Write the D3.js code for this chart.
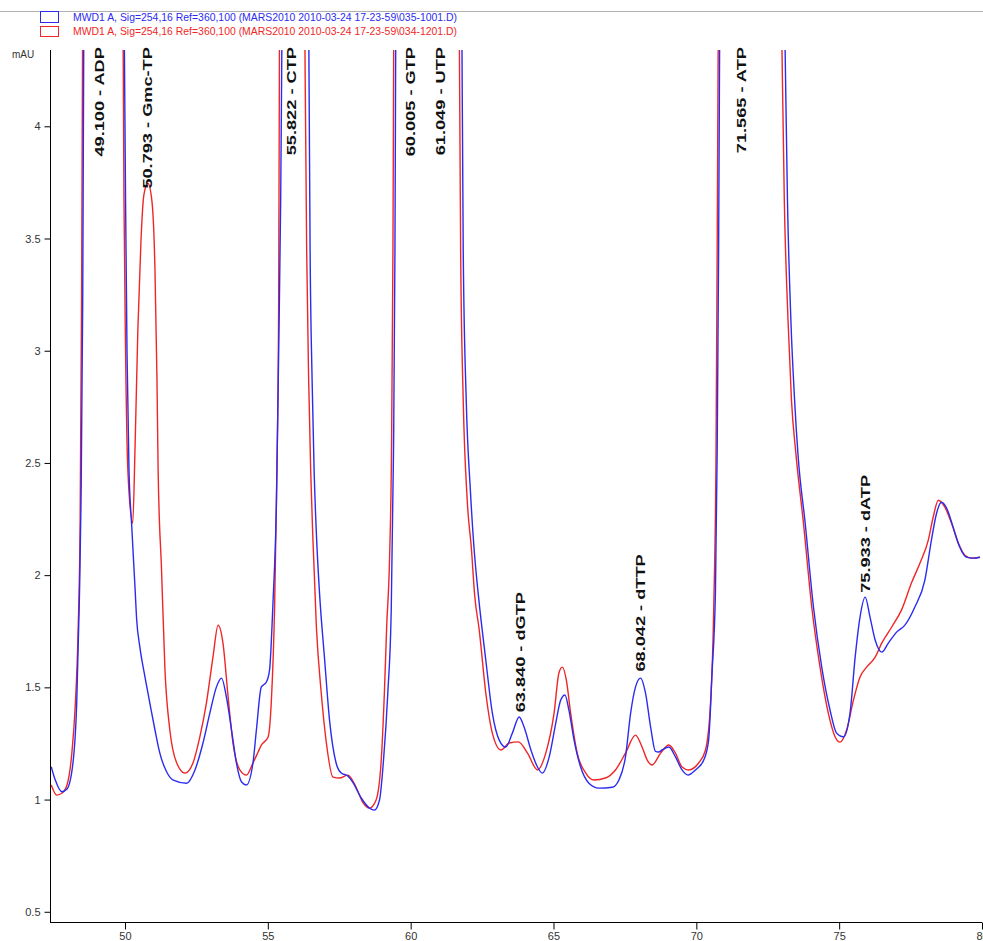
<!DOCTYPE html>
<html>
<head>
<meta charset="utf-8">
<script src="https://cdn.jsdelivr.net/npm/d3@7"></script>
<style>
body { margin: 0; background: #fff; }
svg { display: block; font-family: "Liberation Sans", Arial, sans-serif; }
</style>
</head>
<body>
<svg id="chart" width="983" height="941"></svg>
<script>
// retention time (min), absorbance (mAU)
var blueTrace = [
	[47.42,1.146],[47.56,1.087],[47.79,1.035],[47.97,1.047],[48.19,1.176],[48.31,1.43],[48.40,1.875],[48.46,2.321],[48.52,3.225],[48.56,4.5],
	[49.10,12],
	[49.97,4.5],[50.02,3.67],[50.07,3.0],[50.14,2.468],[50.23,2.232],[50.35,1.947],[50.41,1.80],[50.52,1.68],[50.70,1.546],[50.87,1.43],[51.05,1.31],[51.22,1.207],[51.46,1.123],[51.69,1.087],[52.16,1.073],[52.45,1.132],[52.73,1.252],[52.97,1.385],[53.20,1.501],[53.38,1.541],[53.55,1.457],[53.73,1.31],[53.90,1.163],[54.08,1.078],[54.25,1.065],[54.48,1.163],[54.60,1.31],[54.77,1.501],[54.95,1.524],[55.06,1.577],[55.18,1.875],[55.30,2.321],[55.38,3.0],[55.45,3.67],[55.50,4.5],
	[55.82,14],
	[56.43,4.5],[56.48,3.448],[56.55,2.869],[56.62,2.468],[56.71,2.156],[56.81,1.92],[56.99,1.622],[57.16,1.354],[57.39,1.163],[57.57,1.118],[57.80,1.105],[57.97,1.078],[58.27,1.007],[58.56,0.962],[58.73,0.953],[58.91,0.998],[59.05,1.176],[59.20,1.475],[59.32,1.844],[59.40,2.557],[59.45,3.448],[59.48,4.5],
	[60.005,14],[60.5,6],[61.05,14],
	[61.79,4.5],[61.84,3.448],[61.945,2.78],[62.09,2.379],[62.21,2.134],[62.37,1.911],[62.63,1.622],[62.86,1.385],[63.10,1.265],[63.33,1.234],[63.56,1.296],[63.80,1.368],[63.97,1.323],[64.21,1.221],[64.44,1.145],[64.61,1.118],[64.85,1.19],[65.08,1.341],[65.25,1.443],[65.40,1.466],[65.54,1.399],[65.72,1.265],[65.95,1.145],[66.24,1.073],[66.59,1.051],[67.06,1.055],[67.29,1.087],[67.52,1.19],[67.70,1.385],[67.87,1.501],[68.05,1.541],[68.22,1.475],[68.40,1.323],[68.57,1.215],[68.68,1.212],[68.80,1.221],[69.04,1.234],[69.27,1.19],[69.50,1.132],[69.71,1.109],[69.97,1.132],[70.26,1.176],[70.43,1.265],[70.55,1.564],[70.67,1.933],[70.73,2.557],[70.78,3.448],[70.82,4.5],
	[71.57,20],
	[73.09,4.5],[73.19,3.67],[73.31,3.136],[73.44,2.78],[73.56,2.535],[73.81,2.232],[74.10,1.858],[74.39,1.59],[74.68,1.399],[74.91,1.296],[75.15,1.279],[75.38,1.385],[75.56,1.635],[75.73,1.813],[75.91,1.902],[76.08,1.813],[76.26,1.711],[76.49,1.657],[76.72,1.697],[77.01,1.746],[77.30,1.777],[77.65,1.858],[78.00,1.978],[78.23,2.156],[78.41,2.276],[78.58,2.325],[78.76,2.299],[78.99,2.214],[79.22,2.125],[79.45,2.08],[79.69,2.076],[79.93,2.08]
];

var redTrace = [
	[47.42,1.065],[47.61,1.02],[47.80,1.029],[47.97,1.065],[48.14,1.207],[48.25,1.399],[48.36,1.755],[48.43,2.245],[48.48,3.225],[48.52,4.5],
	[49.10,12],
	[49.93,4.5],[49.965,3.67],[50.02,3.0],[50.10,2.468],[50.27,2.232],[50.35,2.557],[50.45,3.091],[50.56,3.492],[50.66,3.693],[50.80,3.746],[50.94,3.67],[51.05,3.359],[51.12,2.869],[51.16,2.468],[51.28,2.022],[51.40,1.577],[51.57,1.31],[51.81,1.163],[52.10,1.118],[52.38,1.163],[52.62,1.279],[52.85,1.43],[53.08,1.635],[53.26,1.777],[53.43,1.697],[53.61,1.457],[53.78,1.252],[54.02,1.132],[54.25,1.109],[54.48,1.163],[54.66,1.212],[54.77,1.242],[55.01,1.279],[55.12,1.43],[55.24,1.875],[55.32,2.468],[55.38,3.225],[55.41,4.5],
	[55.82,14],
	[56.29,4.5],[56.36,3.448],[56.43,2.869],[56.50,2.468],[56.58,2.156],[56.70,1.769],[56.87,1.475],[57.05,1.252],[57.28,1.1],[57.51,1.096],[57.80,1.109],[58.09,1.055],[58.32,0.989],[58.56,0.962],[58.79,0.998],[58.97,1.176],[59.08,1.475],[59.16,1.769],[59.26,2.067],[59.33,2.557],[59.38,3.448],[59.41,4.5],
	[60.005,14],[60.5,6],[61.05,14],
	[61.70,4.5],[61.75,3.448],[61.84,2.78],[61.98,2.334],[62.13,2.112],[62.24,1.911],[62.40,1.756],[62.63,1.475],[62.86,1.296],[63.16,1.221],[63.45,1.252],[63.77,1.257],[64.09,1.207],[64.44,1.132],[64.73,1.207],[65.02,1.385],[65.19,1.564],[65.31,1.59],[65.45,1.532],[65.60,1.385],[65.83,1.207],[66.13,1.118],[66.42,1.087],[66.82,1.096],[67.17,1.132],[67.52,1.207],[67.87,1.287],[68.10,1.234],[68.28,1.176],[68.45,1.154],[68.75,1.207],[69.04,1.243],[69.27,1.207],[69.50,1.145],[69.73,1.132],[70.08,1.163],[70.32,1.221],[70.49,1.412],[70.61,1.858],[70.69,2.557],[70.73,3.448],[70.77,4.5],
	[71.57,20],
	[72.98,4.5],[73.08,3.67],[73.21,3.136],[73.33,2.78],[73.49,2.535],[73.75,2.232],[74.04,1.858],[74.33,1.59],[74.62,1.385],[74.86,1.279],[75.03,1.256],[75.26,1.31],[75.50,1.443],[75.73,1.546],[75.96,1.59],[76.26,1.635],[76.49,1.697],[76.84,1.769],[77.18,1.844],[77.53,1.965],[77.83,2.054],[78.12,2.156],[78.29,2.258],[78.47,2.334],[78.70,2.303],[78.93,2.232],[79.17,2.143],[79.40,2.089],[79.63,2.076],[79.92,2.08]
];

var peakTimes = [49.100, 50.793, 55.822, 60.005, 61.049, 63.840, 68.042, 71.565, 75.933];
var peakNames = ["ADP", "Gmc-TP", "CTP", "GTP", "UTP", "dGTP", "dTTP", "ATP", "dATP"];

var xMajorTicks = [50, 55, 60, 65, 70, 75, 80];
var yMajorTicks = [0.5, 1, 1.5, 2, 2.5, 3, 3.5, 4];

var legendLabels = [
	"MWD1 A, Sig=254,16 Ref=360,100 (MARS2010 2010-03-24 17-23-59\\035-1001.D)",
	"MWD1 A, Sig=254,16 Ref=360,100 (MARS2010 2010-03-24 17-23-59\\034-1201.D)"
];
var traceColors = ["#2b2bf0", "#f02626"];

window.onload = function(){
	var svg = d3.select("#chart");
	var left = 51, right = 982, top = 50, bottom = 923;

	var x = d3.scaleLinear().domain([47.41, 80]).range([left, right]);
	var y = d3.scaleLinear().domain([0.45, 4.34]).range([bottom, top]);

	// header line + legend
	svg.append("line")
		.attr("x1", 0).attr("x2", 983).attr("y1", 11.5).attr("y2", 11.5)
		.attr("stroke", "#b0b0b0");
	legendLabels.forEach(function(txt, i){
		svg.append("rect")
			.attr("x", 40.5).attr("y", i == 0 ? 11.5 : 26.5)
			.attr("width", 18).attr("height", i == 0 ? 11 : 10)
			.attr("fill", "#fff").attr("stroke", traceColors[i]);
		svg.append("text")
			.attr("x", 73).attr("y", 21 + i * 14)
			.attr("font-size", 10.5)
			.attr("fill", traceColors[i])
			.attr("textLength", 384).attr("lengthAdjust", "spacingAndGlyphs")
			.text(txt);
	});

	svg.append("defs").append("clipPath").attr("id", "plot")
		.append("rect").attr("x", left).attr("y", top)
		.attr("width", right - left).attr("height", bottom - top);

	var line = d3.line()
		.x(function(d){ return x(d[0]); })
		.y(function(d){ return y(d[1]); })
		.curve(d3.curveMonotoneX);

	var traces = svg.append("g").attr("clip-path", "url(#plot)");
	[redTrace, blueTrace].forEach(function(tr){
		traces.append("path")
			.datum(tr)
			.attr("d", line)
			.attr("fill", "none")
			.attr("stroke", tr === blueTrace ? traceColors[0] : traceColors[1])
			.attr("stroke-width", 1.4)
			.attr("stroke-linejoin", "round");
	});

	// axes
	var yAxis = svg.append("g").attr("transform", "translate(" + (left - 0.5) + ",0)");
	yAxis.call(d3.axisLeft(y).tickValues(d3.range(5, 44).map(function(v){ return v / 10; }))
		.tickSize(3).tickFormat(""));
	yAxis.call(d3.axisLeft(y).tickValues(yMajorTicks).tickSize(6).tickPadding(4)
		.tickFormat(function(d){ return d; }));
	yAxis.select(".domain").attr("d", "M0," + top + "V" + bottom);
	yAxis.selectAll("text").attr("font-size", 11).attr("fill", "#333")
		.attr("font-family", "Liberation Sans, Arial, sans-serif");

	var xAxis = svg.append("g").attr("transform", "translate(0," + (bottom - 0.5) + ")");
	xAxis.call(d3.axisBottom(x).tickValues(d3.range(48, 81)).tickSize(4).tickFormat(""));
	xAxis.call(d3.axisBottom(x).tickValues(xMajorTicks).tickSize(7).tickPadding(3)
		.tickFormat(function(d){ return d; }));
	xAxis.select(".domain").attr("d", "M" + left + ",0H" + right);
	xAxis.selectAll("text").attr("font-size", 11).attr("fill", "#333")
		.attr("font-family", "Liberation Sans, Arial, sans-serif");

	svg.selectAll(".domain, .tick line").attr("stroke", "#000");

	svg.append("text")
		.attr("x", 12).attr("y", 58)
		.attr("font-size", 10).attr("fill", "#333")
		.text("mAU");

	// peak labels sit just above the higher of the two traces
	var bis = d3.bisector(function(d){ return d[0]; }).left;
	function valueAt(tr, t){
		var i = bis(tr, t);
		var a = tr[i - 1], b = tr[i];
		return a[1] + (b[1] - a[1]) * (t - a[0]) / (b[0] - a[0]);
	}
	var stretch = 1.4;
	peakTimes.forEach(function(t, i){
		var apex = Math.min(Math.max(valueAt(blueTrace, t), valueAt(redTrace, t)), 4.34);
		var px = x(t);
		var label = svg.append("text")
			.attr("font-size", 13).attr("font-weight", "bold").attr("fill", "#111")
			.attr("dominant-baseline", "central")
			.text(t.toFixed(3) + " - " + peakNames[i]);
		var len = label.node().getComputedTextLength() * stretch;
		var y0 = y(apex) - 7;
		if (y0 - len < top - 3) y0 = top - 3 + len;
		label.attr("transform", "translate(" + px + "," + y0 + ") scale(1," + stretch + ") rotate(-90)");
	});
};
</script>
</body>
</html>
